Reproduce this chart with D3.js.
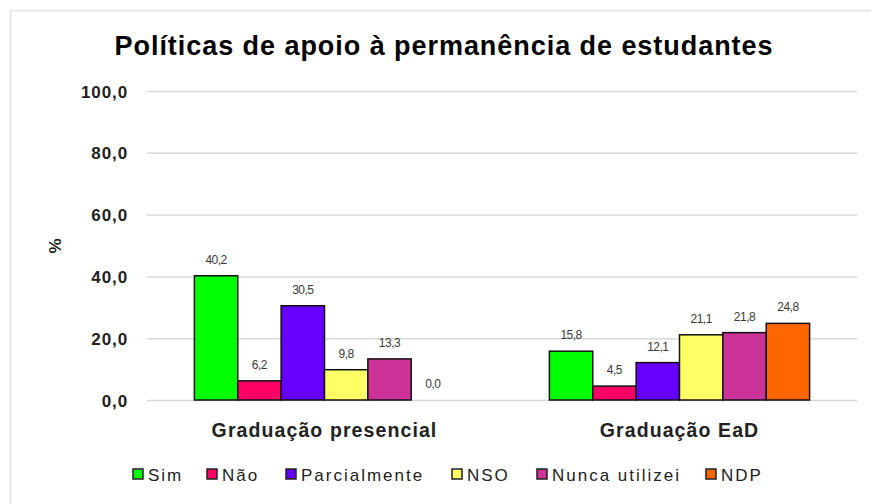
<!DOCTYPE html>
<html><head><meta charset="utf-8">
<script src="https://cdn.jsdelivr.net/npm/d3@7"></script>
<style>
body{margin:0;background:#fff;}
svg{display:block;font-family:"Liberation Sans",Arial,sans-serif;}
</style></head>
<body><svg id="c" width="871" height="504"></svg>
<script>
const categories = ["Graduação presencial", "Graduação EaD"];
const seriesNames = ["Sim", "Não", "Parcialmente", "NSO", "Nunca utilizei", "NDP"];
const seriesColors = ["#00ff00", "#ff0066", "#6600ff", "#ffff66", "#cc3399", "#ff6600"];
const presencialValues = [40.2, 6.2, 30.5, 9.8, 13.3, 0.0];
const eadValues = [15.8, 4.5, 12.1, 21.1, 21.8, 24.8];
const yTicks = [0, 20, 40, 60, 80, 100];
const title = "Políticas de apoio à permanência de estudantes";

(function() {
const values = [presencialValues, eadValues];
const fmt = v => v.toFixed(1).replace(".", ",");

const svg = d3.select("#c");
// outer border
svg.append("rect").attr("x", 10.5).attr("y", 10.5).attr("width", 870).attr("height", 510)
  .attr("fill", "none").attr("stroke", "#e2e2e2").attr("stroke-width", 1.5);

const pLeft = 147, pRight = 857, pTop = 91, pBottom = 400;
const y = d3.scaleLinear().domain([0, 100]).range([pBottom, pTop]);
const x0 = d3.scaleBand().domain(categories).range([pLeft, pRight]).paddingInner(0.267).paddingOuter(0.1335);
const x1 = d3.scaleBand().domain(seriesNames).range([0, x0.bandwidth()]);

// title
svg.append("text").attr("x", 444).attr("y", 55).attr("text-anchor", "middle")
  .attr("font-size", 27).attr("font-weight", "bold").attr("letter-spacing", 0.95).attr("fill", "#000").text(title);

// grid
const yAxis = d3.axisLeft(y).tickValues(yTicks).tickSize(-(pRight - pLeft)).tickPadding(19).tickFormat(fmt);
const ga = svg.append("g").attr("transform", `translate(${pLeft},0)`).call(yAxis);
ga.select(".domain").remove();
ga.selectAll(".tick line").attr("stroke", "#d9d9d9").attr("stroke-width", 1.5);
ga.selectAll(".tick text").attr("font-size", 17).attr("font-weight", "bold").attr("letter-spacing", 0.9)
  .attr("fill", "#222").attr("font-family", "Liberation Sans, Arial, sans-serif").attr("dy", "0.36em");

// y label
svg.append("text").attr("transform", "translate(61,246) rotate(-90)").attr("text-anchor", "middle")
  .attr("font-size", 17).attr("font-weight", "bold").attr("fill", "#222").text("%");

// bars
const groups = svg.selectAll("g.grp").data(categories).join("g").attr("class", "grp")
  .attr("transform", d => `translate(${x0(d)},0)`);
groups.each(function(cat, ci) {
  const g = d3.select(this);
  const data = seriesNames.map((s, i) => ({s, i, v: values[ci][i]}));
  g.selectAll("rect").data(data.filter(d => d.v > 0)).join("rect")
    .attr("x", d => x1(d.s)).attr("y", d => y(d.v))
    .attr("width", x1.bandwidth()).attr("height", d => y(0) - y(d.v))
    .attr("fill", d => seriesColors[d.i]).attr("stroke", "#111").attr("stroke-width", 1.5);
  g.selectAll("text").data(data).join("text")
    .attr("x", d => x1(d.s) + x1.bandwidth() / 2).attr("y", d => y(d.v) - 12)
    .attr("text-anchor", "middle").attr("font-size", 12).attr("fill", "#3a3a3a")
    .attr("letter-spacing", -0.5).text(d => fmt(d.v));
});

// category labels
svg.selectAll("text.cat").data(categories).join("text").attr("class", "cat")
  .attr("x", d => x0(d) + x0.bandwidth() / 2).attr("y", 437).attr("text-anchor", "middle")
  .attr("font-size", 19.5).attr("font-weight", "bold").attr("letter-spacing", 1.1).attr("fill", "#222").text(d => d);

// legend
const legendX = [133, 207, 286, 452, 537, 706];
const lg = svg.selectAll("g.lg").data(seriesNames).join("g").attr("class", "lg")
  .attr("transform", (d, i) => `translate(${legendX[i]},469)`);
lg.append("rect").attr("width", 10).attr("height", 10).attr("fill", (d, i) => seriesColors[i])
  .attr("stroke", "#222").attr("stroke-width", 1.5);
lg.append("text").attr("x", 15).attr("y", 12).attr("font-size", 17).attr("letter-spacing", 2)
  .attr("fill", "#222").text(d => d);
})();
</script></body></html>
